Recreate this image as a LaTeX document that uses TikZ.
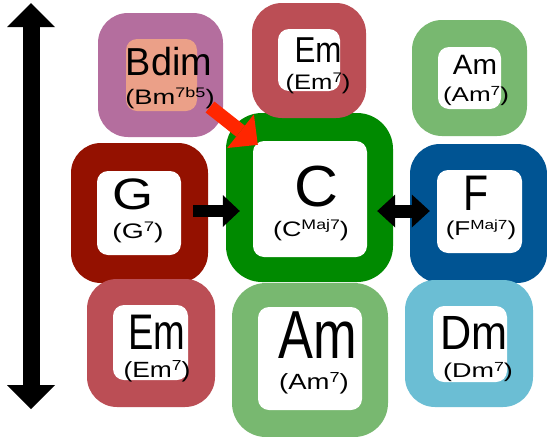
\documentclass[tikz,border=0pt]{standalone}
\usepackage{fontspec}
\usepackage{graphicx}
\setmainfont{Liberation Sans}
\usetikzlibrary{arrows.meta}
\definecolor{bdimc}{HTML}{B46E9E}
\definecolor{salmonc}{HTML}{EBA088}
\definecolor{emc}{HTML}{BB4E55}
\definecolor{amc}{HTML}{78B870}
\definecolor{gc}{HTML}{941100}
\definecolor{cc}{HTML}{008A00}
\definecolor{fc}{HTML}{005493}
\definecolor{dmc}{HTML}{6BBED4}
\definecolor{redarr}{HTML}{FF2600}
\newcommand\chl[3]{\fontsize{#1}{#1}\selectfont\scalebox{#2}[1]{#3}}
\newcommand\sps[1]{\raisebox{0.3em}{\scalebox{0.66}{#1}}}
\begin{document}
\begin{tikzpicture}[x=1pt,y=-1pt,
  outerbox/.style={rectangle,rounded corners=30pt,inner sep=0pt,draw=none,fill=#1},
  innerbox/.style={rectangle,rounded corners=11pt,inner sep=0pt,draw=none,fill=#1},
  lbl/.style={anchor=base,inner sep=0pt,text=black},
  blkarrow/.style={draw=black,line width=12pt,-{Triangle[length=17pt,width=32pt,line width=0pt]}},
  dblarrow/.style={draw=black,line width=13pt,{Triangle[length=18pt,width=33pt,line width=0pt]}-{Triangle[length=18pt,width=33pt,line width=0pt]}},
  vertarrow/.style={draw=black,line width=17pt,{Triangle[length=24pt,width=48pt,line width=0pt]}-{Triangle[length=24pt,width=48pt,line width=0pt]}},
  redarrow/.style={draw=redarr,line width=14pt,-{Triangle[length=22pt,width=43pt,line width=0pt]}}
]
\useasboundingbox (0,0) rectangle (547,437);
\fill[white] (0,0) rectangle (547,437);

% vertical double arrow
\coordinate (vtop) at (31,3);
\coordinate (vbot) at (31,409);
\draw[vertarrow] (vtop) -- (vbot);

% Bdim
\node[outerbox=bdimc, minimum width=125pt, minimum height=124pt] (bdimO) at (160.5,75) {};
\node[innerbox=salmonc, minimum width=71pt, minimum height=72pt] (bdimI) at (161.5,75) {};
% Am top
\node[outerbox=amc, minimum width=115pt, minimum height=116pt] (amtO) at (469.5,78) {};
\node[innerbox=white, minimum width=63pt, minimum height=62pt] (amtI) at (469.5,78) {};
% C
\node[outerbox=cc, rounded corners=36pt, minimum width=167pt, minimum height=169pt] (cO) at (309.5,197.5) {};
\node[innerbox=white, minimum width=114pt, minimum height=116pt] (cI) at (310,199) {};
% Em top (over C)
\node[outerbox=emc, minimum width=114pt, minimum height=115pt] (emtO) at (309,60.5) {};
\node[innerbox=white, minimum width=62pt, minimum height=62pt] (emtI) at (309,60) {};
% G
\node[outerbox=gc, minimum width=137pt, minimum height=140pt] (gO) at (139.5,213) {};
\node[innerbox=white, minimum width=84pt, minimum height=84pt] (gI) at (139,213) {};
% F
\node[outerbox=fc, minimum width=137pt, minimum height=139pt] (fO) at (478.5,213.5) {};
\node[innerbox=white, minimum width=85pt, minimum height=83pt] (fI) at (479.5,211.5) {};
% Em bottom
\node[outerbox=emc, minimum width=128pt, minimum height=128pt] (embO) at (151,343) {};
\node[innerbox=white, minimum width=75pt, minimum height=75pt] (embI) at (150.5,342.5) {};
% Am bottom
\node[outerbox=amc, rounded corners=34pt, minimum width=156pt, minimum height=154pt] (ambO) at (310,360) {};
\node[innerbox=white, minimum width=104pt, minimum height=103pt] (ambI) at (310,358.5) {};
% Dm
\node[outerbox=dmc, minimum width=128pt, minimum height=127pt] (dmO) at (469,343.5) {};
\node[innerbox=white, minimum width=74pt, minimum height=76pt] (dmI) at (470,344) {};

% labels
\node[lbl] (bdimA) at (169,75) {\chl{39pt}{0.97}{Bdim}};
\node[lbl] (bdimB) at (170,104) {\chl{21pt}{1.3}{(Bm\sps{7b5})}};
\node[lbl] (emtA) at (318,62) {\chl{36pt}{0.87}{Em}};
\node[lbl] (emtB) at (318,89) {\chl{21pt}{1.22}{(Em\sps{7})}};
\node[lbl] (amtA) at (475,74) {\chl{28pt}{1.05}{Am}};
\node[lbl] (amtB) at (476,101) {\chl{20pt}{1.3}{(Am\sps{7})}};
\node[lbl] (gA) at (133,209) {\chl{44pt}{1.2}{G}};
\node[lbl] (gB) at (138,238) {\chl{21pt}{1.35}{(G\sps{7})}};
\node[lbl] (cA) at (316,206) {\chl{58pt}{1.05}{C}};
\node[lbl] (cB) at (311,236) {\chl{21pt}{1.28}{(C\sps{Maj7})}};
\node[lbl] (fA) at (476,210) {\chl{50pt}{0.82}{F}};
\node[lbl] (fB) at (481,235) {\chl{20pt}{1.3}{(F\sps{Maj7})}};
\node[lbl] (embA) at (157,349) {\chl{50pt}{0.76}{Em}};
\node[lbl] (embB) at (157,377) {\chl{22pt}{1.2}{(Em\sps{7})}};
\node[lbl] (ambA) at (318,358) {\chl{68pt}{0.77}{Am}};
\node[lbl] (ambB) at (314,389) {\chl{22pt}{1.25}{(Am\sps{7})}};
\node[lbl] (dmA) at (474,349) {\chl{48pt}{0.9}{Dm}};
\node[lbl] (dmB) at (478,377) {\chl{20pt}{1.35}{(Dm\sps{7})}};

% connectors
\draw[blkarrow] ([shift={(-15,-2)}]gO.east) -- ([shift={(14,13.5)}]cO.west);
\draw[dblarrow] ([shift={(10,12)}]cI.east) -- ([shift={(20,-2.5)}]fO.west);
\draw[redarrow] ([shift={(49.5,32)}]bdimO.center) -- ([shift={(5,4)}]cI.north west);
\end{tikzpicture}
\end{document}
